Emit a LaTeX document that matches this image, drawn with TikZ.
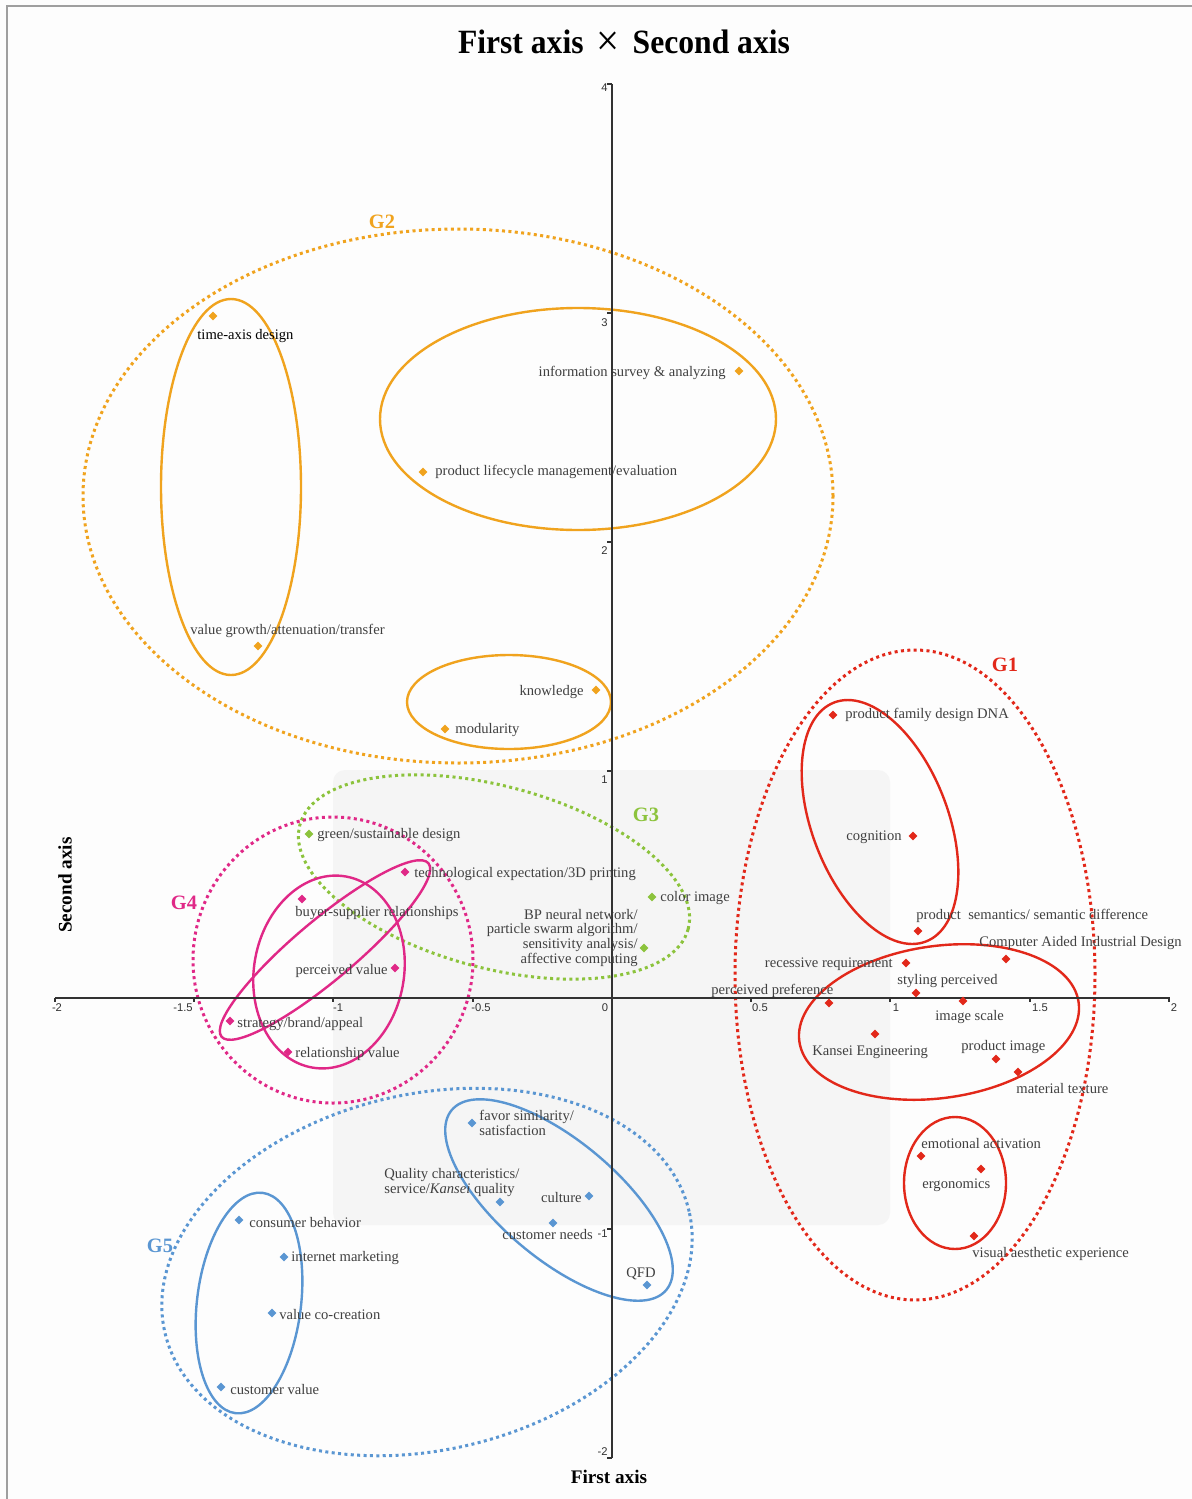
\documentclass[tikz,border=0pt]{standalone}
\usepackage{fontspec}
\setmainfont{Liberation Serif}
\setsansfont{Liberation Sans}
\usetikzlibrary{shapes.geometric}
\definecolor{cO}{RGB}{240,163,30}
\definecolor{cR}{RGB}{226,40,26}
\definecolor{cG}{RGB}{140,195,60}
\definecolor{cM}{RGB}{224,40,135}
\definecolor{cB}{RGB}{90,150,210}
\definecolor{txt}{RGB}{64,64,64}
\definecolor{pagebg}{RGB}{253,253,253}
\definecolor{panel}{RGB}{245,245,245}
\definecolor{axisc}{RGB}{50,50,50}
\tikzset{
  lab/.style={inner sep=0pt, yshift=-0.9pt, text=txt, font=\fontsize{7.3}{7.35}\selectfont},
  mk/.style={diamond, fill=#1, draw=none, inner sep=0pt, minimum width=4.6pt, minimum height=4.6pt},
  ring/.style={draw=#1, line width=1.2pt},
  dotring/.style={draw=#1, line width=1.5pt, dash pattern=on 1.5pt off 1.7pt},
  glab/.style={text=#1, font=\bfseries\fontsize{10.2}{10.2}\selectfont, inner sep=0pt},
  ticklab/.style={inner sep=0pt, text=axisc, font=\sffamily\fontsize{5.6}{5.6}\selectfont},
  axisline/.style={draw=axisc, line width=0.6pt}
}
\begin{document}
\begin{tikzpicture}[x=0.5pt,y=-0.5pt]
\useasboundingbox (0,0) rectangle (1192,1499);
\fill[pagebg] (0,0) rectangle (1192,1499);
\draw[gray!75, line width=0.9pt] (7,1499) -- (7,6) -- (1192,6);
\fill[panel, rounded corners=6pt] (333,770) rectangle (890,1225);

% ---- G2 ellipses (orange)
\draw[ring=cO] (231,487) ellipse [x radius=35pt, y radius=94pt];
\draw[ring=cO] (578,419) ellipse [x radius=99pt, y radius=55.5pt];
\draw[ring=cO] (509,702) ellipse [x radius=51pt, y radius=23.5pt];
\draw[dotring=cO] (458,496) ellipse [x radius=187.5pt, y radius=133.5pt];
% ---- G1 ellipses (red)
\draw[ring=cR] (880,822) ellipse [x radius=64pt, y radius=34pt, rotate=-69];
\draw[ring=cR] (939,1022) ellipse [x radius=70.5pt, y radius=38pt, rotate=8];
\draw[ring=cR] (955,1183) ellipse [x radius=25.5pt, y radius=33pt];
\draw[dotring=cR] (915,975) ellipse [x radius=90pt, y radius=162.5pt];
% ---- G3 (green)
\draw[dotring=cG] (494,877) ellipse [x radius=100.5pt, y radius=45.5pt, rotate=-15];
% ---- G4 (magenta)
\draw[dotring=cM] (333,960) ellipse [x radius=70pt, y radius=71.5pt];
\draw[ring=cM] (325,950) ellipse [x radius=67.5pt, y radius=15pt, rotate=40];
\draw[ring=cM] (329,972) ellipse [x radius=48.5pt, y radius=37.5pt, rotate=80];
% ---- G5 (blue)
\draw[ring=cB] (249,1303) ellipse [x radius=55.5pt, y radius=26pt, rotate=83];
\draw[ring=cB] (559,1200) ellipse [x radius=70pt, y radius=29.5pt, rotate=-40];
\draw[dotring=cB] (427,1272) ellipse [x radius=134.5pt, y radius=89pt, rotate=13];

% ---- axes
\coordinate (ytop) at (612,84);
\coordinate (ybot) at (612,1458);
\coordinate (xleft) at (55,998);
\coordinate (xright) at (1170,998);
\draw[axisline] (ybot) -- (ytop);
\draw[axisline] (xleft) -- (xright);
\foreach \tx in {55,194,333,473,751,890,1030,1169} {
  \draw[axisline] (\tx,998) -- (\tx,1002);
}
\foreach \ty in {84,313,542,771,1229,1458} {
  \draw[axisline] (607,\ty) -- (612,\ty);
}
\foreach \lx/\lt/\nm in {57/-2/a,183/-1.5/b,338/-1/c,481/-0.5/d,605/0/e,760/0.5/f,896/1/g,1040/1.5/h,1174/2/i} {
  \node[ticklab] (xt\nm) at (\lx,1008) {\lt};
}
\foreach \ly/\lt/\nm in {88/4/a,323/3/b,551/2/c,780/1/d,1234/-1/e,1452/-2/f} {
  \node[ticklab, anchor=east] (yt\nm) at (608,\ly) {\lt};
}

% ---- titles
\node[inner sep=0pt] (title) at (624,43) {\scalebox{0.93}[1]{\fontsize{17}{17}\selectfont\bfseries First axis\hspace{7pt}\raisebox{-1.2pt}{\mdseries\fontsize{22}{22}\selectfont ×}\hspace{7pt}Second axis}};
\node[inner sep=0pt] (xname) at (609,1477) {\bfseries\fontsize{9.6}{10}\selectfont First axis};
\node[inner sep=0pt, rotate=90] (yname) at (65,885) {\bfseries\fontsize{9.6}{10}\selectfont Second axis};

% ---- group labels
\node[glab=cO] (G2) at (382,222) {G2};
\node[glab=cR] (G1) at (1005,665) {G1};
\node[glab=cG] (G3) at (646,815) {G3};
\node[glab=cM] (G4) at (184,903) {G4};
\node[glab=cB] (G5) at (160,1246) {G5};

% ---- G2 points
\node[mk=cO] (m1) at (213,316) {};
\node[lab, anchor=west, text=black] (lm1) at (197,334) {time-axis design};
\node[mk=cO] (m2) at (258,646) {};
\node[lab, anchor=west] (lm2) at (190,629) {value growth/attenuation/transfer};
\node[mk=cO] (m3) at (739,371) {};
\node[lab, anchor=east] (lm3) at (726,371) {information survey \& analyzing};
\node[mk=cO] (m4) at (423,472) {};
\node[lab, anchor=west] (lm4) at (435,470) {product lifecycle management/evaluation};
\node[mk=cO] (m5) at (596,690) {};
\node[lab, anchor=east] (lm5) at (584,690) {knowledge};
\node[mk=cO] (m6) at (445,729) {};
\node[lab, anchor=west] (lm6) at (455,728) {modularity};

% ---- G1 points
\node[mk=cR] (r1) at (833,715) {};
\node[lab, anchor=west] (lr1) at (845,713) {product family design DNA};
\node[mk=cR] (r2) at (913,836) {};
\node[lab, anchor=east] (lr2) at (902,835) {cognition};
\node[mk=cR] (r3) at (918,931) {};
\node[lab, anchor=west] (lr3) at (916,914) {product\ \ semantics/ semantic difference};
\node[mk=cR] (r4) at (1006,959) {};
\node[lab, anchor=west] (lr4) at (979,941) {Computer Aided Industrial Design};
\node[mk=cR] (r5) at (906,963) {};
\node[lab, anchor=east] (lr5) at (893,962) {recessive requirement};
\node[mk=cR] (r6) at (916,993) {};
\node[lab, anchor=west] (lr6) at (897,979) {styling perceived};
\node[mk=cR] (r7) at (829,1003) {};
\node[lab, anchor=west] (lr7) at (711,989) {perceived preference};
\node[mk=cR] (r8) at (963,1001) {};
\node[lab, anchor=west] (lr8) at (935,1015) {image scale};
\node[mk=cR] (r9) at (875,1034) {};
\node[lab, anchor=west] (lr9) at (812,1050) {Kansei Engineering};
\node[mk=cR] (r10) at (996,1059) {};
\node[lab, anchor=west] (lr10) at (961,1045) {product image};
\node[mk=cR] (r11) at (1018,1072) {};
\node[lab, anchor=west] (lr11) at (1016,1087) {material texture};
\node[mk=cR] (r12) at (921,1156) {};
\node[lab, anchor=west] (lr12) at (921,1142) {emotional activation};
\node[mk=cR] (r13) at (981,1169) {};
\node[lab, anchor=west] (lr13) at (922,1183) {ergonomics};
\node[mk=cR] (r14) at (974,1236) {};
\node[lab, anchor=west] (lr14) at (972,1252) {visual aesthetic experience};

% ---- G3 points
\node[mk=cG] (g1) at (309,834) {};
\node[lab, anchor=west] (lg1) at (317,833) {green/sustainable design};
\node[mk=cG] (g2) at (652,897) {};
\node[lab, anchor=west] (lg2) at (660,896) {color image};
\node[mk=cG] (g3) at (644,948) {};
\node[lab, anchor=east, align=right] (lg3) at (638,936) {BP neural network/\\particle swarm algorithm/\\sensitivity analysis/\\affective computing};

% ---- G4 points
\node[mk=cM] (k1) at (405,872) {};
\node[lab, anchor=west] (lk1) at (414,872) {technological expectation/3D printing};
\node[mk=cM] (k2) at (302,899) {};
\node[lab, anchor=west] (lk2) at (295,911) {buyer-supplier relationships};
\node[mk=cM] (k3) at (395,968) {};
\node[lab, anchor=east] (lk3) at (388,969) {perceived value};
\node[mk=cM] (k4) at (230,1021) {};
\node[lab, anchor=west] (lk4) at (237,1022) {strategy/brand/appeal};
\node[mk=cM] (k5) at (288,1052) {};
\node[lab, anchor=west] (lk5) at (295,1052) {relationship value};

% ---- G5 points
\node[mk=cB] (b1) at (472,1123) {};
\node[lab, anchor=west, align=left] (lb1) at (479,1121) {favor similarity/\\satisfaction};
\node[mk=cB] (b2) at (500,1202) {};
\node[lab, anchor=west, align=left] (lb2) at (384,1181) {Quality characteristics/\\service/\textit{Kansei} quality};
\node[mk=cB] (b3) at (589,1196) {};
\node[lab, anchor=east] (lb3) at (582,1196) {culture};
\node[mk=cB] (b4) at (553,1223) {};
\node[lab, anchor=west] (lb4) at (502,1233) {customer needs};
\node[mk=cB] (b5) at (647,1285) {};
\node[lab] (lb5) at (641,1272) {QFD};
\node[mk=cB] (b6) at (239,1220) {};
\node[lab, anchor=west] (lb6) at (249,1221) {consumer behavior};
\node[mk=cB] (b7) at (284,1257) {};
\node[lab, anchor=west] (lb7) at (291,1256) {internet marketing};
\node[mk=cB] (b8) at (272,1313) {};
\node[lab, anchor=west] (lb8) at (279,1313) {value co-creation};
\node[mk=cB] (b9) at (221,1387) {};
\node[lab, anchor=west] (lb9) at (230,1388) {customer value};
\end{tikzpicture}
\end{document}
